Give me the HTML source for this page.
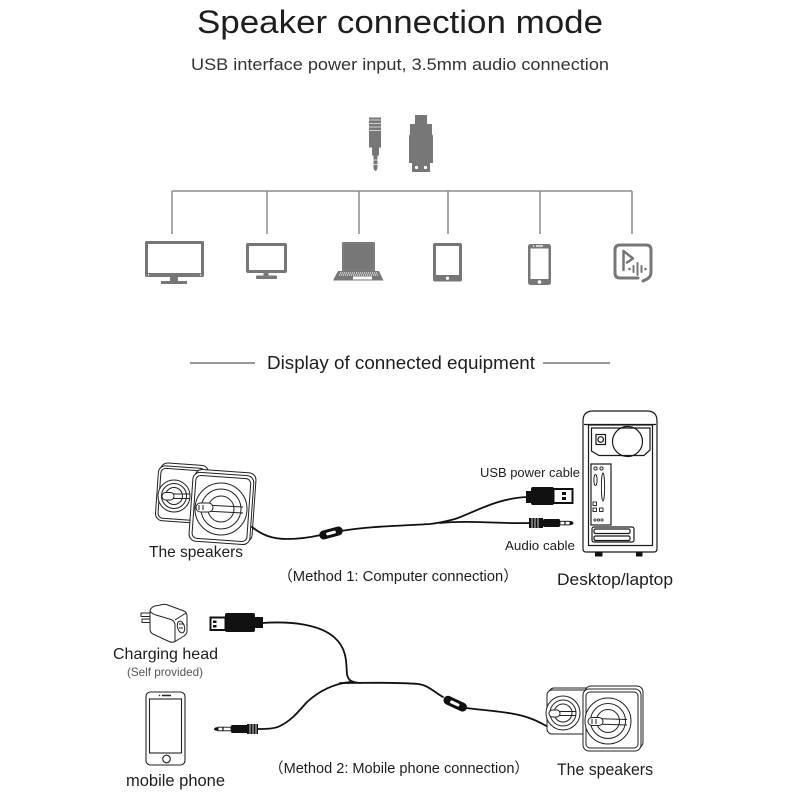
<!DOCTYPE html>
<html><head><meta charset="utf-8"><style>
html,body{margin:0;padding:0;background:#fff;}
svg{display:block;}
text{font-family:"Liberation Sans","Noto Sans CJK SC",sans-serif;fill:#1e1e1e;}
</style></head><body>
<svg width="800" height="800" viewBox="0 0 800 800" xmlns="http://www.w3.org/2000/svg">
<rect width="800" height="800" fill="#fff"/>

<!-- Titles -->
<text x="197" y="33" font-size="32" textLength="406" lengthAdjust="spacingAndGlyphs">Speaker connection mode</text>
<text x="191" y="70" font-size="17" fill="#333" textLength="418" lengthAdjust="spacingAndGlyphs" style="fill:#333">USB interface power input, 3.5mm audio connection</text>

<!-- top plug icons -->
<g fill="#777">
  <rect x="369" y="117.5" width="12" height="30"/>
  <rect x="372" y="147.5" width="7" height="8"/>
  <path d="M373.5,155 L377.5,155 L377.5,168 Q375.5,174 373.5,168 Z"/>
  <rect x="415" y="115" width="12" height="10"/>
  <path d="M410,124 L432,124 L432,134 L433,136 L433,163 L409,163 L409,136 L410,134 Z"/>
  <rect x="412" y="163" width="18" height="9"/>
</g>
<g stroke="#d0d0d0" stroke-width="1">
  <line x1="369" y1="120" x2="381" y2="120"/>
  <line x1="369" y1="123.5" x2="381" y2="123.5"/>
  <line x1="369" y1="127" x2="381" y2="127"/>
  <line x1="369" y1="130.5" x2="381" y2="130.5"/>
  <line x1="373.5" y1="160" x2="377.5" y2="160"/>
  <line x1="373.5" y1="164.5" x2="377.5" y2="164.5"/>
</g>
<circle cx="416.5" cy="167.5" r="1.6" fill="#fff"/>
<circle cx="425.5" cy="167.5" r="1.6" fill="#fff"/>

<!-- tree lines -->
<g stroke="#8c8c8c" stroke-width="1.5" fill="none">
  <line x1="172" y1="191" x2="632" y2="191"/>
  <line x1="172" y1="191" x2="172" y2="234"/>
  <line x1="267" y1="191" x2="267" y2="234"/>
  <line x1="359" y1="191" x2="359" y2="234"/>
  <line x1="448" y1="191" x2="448" y2="234"/>
  <line x1="540" y1="191" x2="540" y2="234"/>
  <line x1="632" y1="191" x2="632" y2="234"/>
</g>

<!-- device icons -->
<g fill="#777">
  <!-- TV -->
  <rect x="145" y="241" width="59" height="36" rx="1.5"/>
  <rect x="170" y="277" width="8" height="4"/>
  <rect x="161" y="281" width="26" height="3"/>
  <!-- monitor -->
  <rect x="246" y="243" width="41" height="30" rx="2"/>
  <rect x="263.5" y="273" width="5" height="3"/>
  <rect x="256" y="275.5" width="21" height="3.5" rx="1"/>
  <!-- laptop -->
  <rect x="342" y="242" width="33" height="29.5" rx="1.5"/>
  <polygon points="338,271 379,271 383.5,280.5 333,280.5"/>
  <!-- tablet -->
  <rect x="433" y="243" width="29" height="38.5" rx="2"/>
  <!-- phone -->
  <rect x="528" y="244" width="23" height="41" rx="2.5"/>
</g>
<g fill="#fff">
  <rect x="148" y="244" width="53" height="29"/>
  <circle cx="148.5" cy="275" r="0.7"/>
  <circle cx="200.5" cy="275" r="0.7"/>
  <rect x="249" y="246" width="35" height="24"/>
  <rect x="353" y="276.5" width="19" height="3"/>
  <rect x="436" y="246" width="23" height="29"/>
  <circle cx="447.5" cy="278.2" r="1.6"/>
  <rect x="530.5" y="248.5" width="18" height="30.5"/>
  <rect x="536" y="245.3" width="7" height="1.3"/>
  <circle cx="533.5" cy="246" r="0.8"/>
  <circle cx="539.5" cy="282" r="1.8"/>
</g>
<g stroke="#fff" stroke-width="1" stroke-dasharray="1.2 0.8">
  <line x1="340" y1="273" x2="377" y2="273"/>
  <line x1="339" y1="275" x2="378" y2="275"/>
</g>
<rect x="343.5" y="243.5" width="30" height="26.5" fill="none" stroke="#8a8a8a" stroke-width="0.6"/>
<!-- media icon -->
<g stroke="#777" fill="none" stroke-width="3" stroke-linecap="round" stroke-linejoin="round">
  <path d="M638,278 L620,278 Q615,278 615,273 L615,250 Q615,245 620,245 L646,245 Q651,245 651,250 L651,272 Q651,277 647,279 L643,281"/>
  <path d="M623.5,251 L623.5,270 M623.5,251 L633,258.5 L627,262.5" stroke-width="2.5"/>
</g>
<g fill="#777">
  <circle cx="629.5" cy="269" r="1.3"/>
  <rect x="632.5" y="265" width="2" height="8" rx="1"/>
  <rect x="636.5" y="262" width="2" height="14" rx="1"/>
  <rect x="640.5" y="265" width="2" height="8" rx="1"/>
  <circle cx="645.5" cy="269" r="1.3"/>
</g>

<!-- section header -->
<g stroke="#333" stroke-width="1">
  <line x1="190" y1="363" x2="255" y2="363"/>
  <line x1="543" y1="363" x2="610" y2="363"/>
</g>
<text x="267" y="369" font-size="18.5" textLength="268" lengthAdjust="spacingAndGlyphs">Display of connected equipment</text>

<!-- ===== Method 1 ===== -->
<!-- speakers 1 -->
<g stroke="#222" stroke-width="1" fill="#fff">
  <rect x="159" y="464" width="48" height="55" rx="7" transform="rotate(4 181 493)"/>
  <rect x="157" y="467" width="48" height="55" rx="7" transform="rotate(4 181 493)"/>
  <rect x="159.5" y="469.5" width="43" height="50" rx="5" transform="rotate(4 181 493)"/>
  <circle cx="174" cy="496" r="16"/>
  <circle cx="174" cy="496" r="12.5"/>
  <circle cx="174" cy="496" r="8.5"/>
  <path d="M168,494 L190,494 M168,498.5 L190,498.5" fill="none"/>
  <rect x="162" y="492.5" width="12" height="7.5" rx="3.7"/>
  <rect x="193" y="471" width="61" height="69" rx="7" transform="rotate(4 222 507)"/>
  <rect x="191" y="474" width="61" height="69" rx="7" transform="rotate(4 222 507)"/>
  <rect x="194" y="477" width="55" height="63" rx="5" transform="rotate(4 222 507)"/>
  <circle cx="221" cy="509" r="26"/>
  <circle cx="221" cy="509" r="20"/>
  <circle cx="221" cy="509" r="13"/>
  <path d="M205,505 L243,507 M205,511 L243,513" fill="none"/>
  <rect x="196" y="503" width="17" height="9" rx="4.5"/>
  <path d="M199,505 L199,510 M203,505 L203,510" fill="none"/>
</g>

<!-- cable method 1 -->
<g stroke="#111" stroke-width="1.8" fill="none" stroke-linecap="round">
  <path d="M252,527 C262,535 272,539 287,539 C302,539 312,537 321,535"/>
  <path d="M341,531 C370,526 400,526 430,524 C440,523 447,521 455,519 C475,512 497,498 528,497"/>
  <path d="M440,523 C470,520 500,524 530,523"/>
</g>
<rect x="319" y="528.5" width="24" height="9" rx="4.5" fill="#111" transform="rotate(-15 331 533)"/>
<rect x="326" y="531.5" width="10" height="3" rx="1.5" fill="#fff" transform="rotate(-15 331 533)"/>

<!-- USB plug method 1 -->
<rect x="526" y="491" width="7" height="12" fill="#111"/>
<rect x="531" y="487" width="23" height="18" rx="2" fill="#111"/>
<rect x="553.5" y="489" width="19" height="14" fill="#fff" stroke="#111" stroke-width="2"/>
<rect x="562" y="492" width="4" height="3" fill="#111"/>
<rect x="562" y="497" width="4" height="3" fill="#111"/>
<!-- audio jack method 1 -->
<rect x="529" y="518" width="14" height="10" fill="#111"/>
<g stroke="#fff" stroke-width="0.8">
  <line x1="532" y1="518" x2="532" y2="528"/>
  <line x1="535" y1="518" x2="535" y2="528"/>
  <line x1="538" y1="518" x2="538" y2="528"/>
</g>
<rect x="543" y="519" width="17" height="8" rx="1.5" fill="#111"/>
<rect x="560" y="521.3" width="10" height="3.6" fill="#fff" stroke="#111" stroke-width="0.9"/>
<path d="M570,521.3 L572,521.3 Q575,523.1 572,524.9 L570,524.9 Z" fill="#111"/>
<line x1="565" y1="521.3" x2="565" y2="524.9" stroke="#111" stroke-width="1.2"/>

<!-- computer tower -->
<g stroke="#1a1a1a" stroke-width="1.2" fill="none">
  <path d="M583,549 L583,421 Q583,411 593,411 L647,411 Q657,411 657,421 L657,549 Q657,552 654,552 L586,552 Q583,552 583,549 Z"/>
  <line x1="584" y1="424.5" x2="656" y2="424.5"/>
  <rect x="588.5" y="425" width="64" height="120.5"/>
  <path d="M591.5,428 L650,428 L650,450 L644,455.5 L599,455.5 L591.5,451 Z"/>
  <circle cx="627.5" cy="441.5" r="15"/>
  <rect x="596" y="434.5" width="9.5" height="10"/>
  <circle cx="600.7" cy="439.5" r="2.8"/>
  <rect x="591" y="464" width="20" height="61"/>
  <circle cx="595.5" cy="468.5" r="1.6" stroke-width="0.9"/>
  <circle cx="601.5" cy="468.5" r="1.6" stroke-width="0.9"/>
  <ellipse cx="595.5" cy="480" rx="1.6" ry="5.5" stroke-width="0.9"/>
  <ellipse cx="603" cy="487" rx="1.6" ry="14" stroke-width="0.9"/>
  <rect x="593" y="502" width="3.5" height="3.5" stroke-width="0.9"/>
  <rect x="593" y="508" width="3.5" height="3.5" stroke-width="0.9"/>
  <rect x="599.5" y="508" width="3.5" height="3.5" stroke-width="0.9"/>
  <circle cx="595" cy="520" r="1.1" stroke-width="0.8"/>
  <circle cx="598.5" cy="520" r="1.1" stroke-width="0.8"/>
  <circle cx="602" cy="520" r="1.1" stroke-width="0.8"/>
  <rect x="592" y="527" width="42" height="15" rx="2"/>
  <rect x="594" y="529" width="36" height="4.5" rx="1.5"/>
  <rect x="594" y="536" width="36" height="4.5" rx="1.5"/>
</g>
<rect x="595" y="552" width="7.5" height="4.5" fill="#111"/>
<rect x="636" y="552" width="6.5" height="4.5" fill="#111"/>

<!-- labels method 1 -->
<text x="480" y="477" font-size="13" textLength="100" lengthAdjust="spacingAndGlyphs">USB power cable</text>
<text x="505" y="550" font-size="13" textLength="70" lengthAdjust="spacingAndGlyphs">Audio cable</text>
<text x="149" y="557" font-size="16" textLength="94" lengthAdjust="spacingAndGlyphs">The speakers</text>
<text x="278" y="581" font-size="15" textLength="240" lengthAdjust="spacingAndGlyphs">（Method 1: Computer connection）</text>
<text x="557" y="585" font-size="17" textLength="116" lengthAdjust="spacingAndGlyphs">Desktop/laptop</text>

<!-- ===== Method 2 ===== -->
<!-- charger -->
<g stroke="#222" stroke-width="1" fill="#fff" stroke-linejoin="round">
  <path d="M141,613 L151,613 L151,616.5 L141,616.5 Z"/>
  <path d="M142,619 L151,619 L151,622.5 L142,622.5 Z"/>
  <path d="M150,611 Q151,607 155,606 L163,604.5 Q166,604 169,605.5 L184,611 Q187,612.5 187,616 L187,631 Q187,634 184,636 L175,641.5 Q172,643 169,641.5 L153,634 Q150,632.5 150,629 Z"/>
  <path d="M150,611 Q152,614 156,615 L171,619.5 Q174,620.5 175,624 L175,641" fill="none"/>
  <path d="M175,620 L186,613" fill="none"/>
  <ellipse cx="181" cy="627" rx="3.5" ry="6" transform="rotate(-15 181 627)"/>
  <path d="M179,624 L183,624 M179,628 L183,628" fill="none"/>
</g>

<!-- USB plug method 2 -->
<rect x="210.5" y="617.5" width="15" height="12.5" fill="#fff" stroke="#111" stroke-width="2"/>
<rect x="213" y="620.5" width="3.5" height="2.5" fill="#111"/>
<rect x="213" y="625" width="3.5" height="2.5" fill="#111"/>
<rect x="225" y="613" width="30" height="19" rx="2" fill="#111"/>
<rect x="253" y="617" width="10" height="11" fill="#111"/>

<!-- cable method 2 -->
<g stroke="#111" stroke-width="1.8" fill="none" stroke-linecap="round">
  <path d="M262,623 C290,621 320,624 335,638 C348,650 346,665 347,674 C348,681 352,682 360,683"/>
  <path d="M340,683 C362,683 395,682 418,684 C428,685 434,692 443,697"/>
  <path d="M466,708 C490,711 515,712 532,719 C540,722 546,726 552,729"/>
  <path d="M350,682 C332,684 318,692 307,702 C298,712 292,720 280,726 C274,729 266,729 257,729"/>
</g>
<rect x="443" y="699" width="25" height="9" rx="4.5" fill="#111" transform="rotate(25 455 703)"/>
<rect x="450" y="702" width="10" height="3" rx="1.5" fill="#fff" transform="rotate(25 455 703)"/>

<!-- jack method 2 -->
<rect x="247" y="724" width="11" height="10" fill="#111"/>
<g stroke="#fff" stroke-width="0.8">
  <line x1="250" y1="724" x2="250" y2="734"/>
  <line x1="253" y1="724" x2="253" y2="734"/>
  <line x1="256" y1="724" x2="256" y2="734"/>
</g>
<rect x="231" y="725" width="17" height="8" rx="1.5" fill="#111"/>
<rect x="218" y="727.2" width="13" height="3.6" fill="#fff" stroke="#111" stroke-width="0.9"/>
<line x1="223" y1="727.2" x2="223" y2="730.8" stroke="#111" stroke-width="1.2"/>
<path d="M218,727.2 L216,727.2 Q212,729 216,730.8 L218,730.8 Z" fill="#111"/>

<!-- phone -->
<g stroke="#222" stroke-width="1.1" fill="#fff">
  <rect x="146" y="692" width="39" height="73" rx="4.5"/>
  <rect x="149.5" y="699" width="32" height="54"/>
  <circle cx="166.5" cy="759" r="3.8"/>
  <line x1="162" y1="695.5" x2="171" y2="695.5" stroke-width="1.5"/>
</g>
<circle cx="159.5" cy="695.5" r="0.8" fill="#222"/>

<!-- speakers 2 -->
<g stroke="#222" stroke-width="1" fill="#fff">
  <rect x="549" y="688" width="42" height="44" rx="5"/>
  <rect x="547" y="690" width="42" height="44" rx="5"/>
  <circle cx="563" cy="713" r="17"/>
  <circle cx="563" cy="713" r="13"/>
  <circle cx="563" cy="713" r="9"/>
  <path d="M556,711.5 L576,711.5 M556,715.5 L576,715.5" fill="none"/>
  <rect x="549" y="710" width="11" height="7" rx="3.5"/>
  <rect x="585" y="686" width="58" height="62" rx="6"/>
  <rect x="583" y="689" width="58" height="62" rx="6"/>
  <rect x="586" y="692" width="52" height="56" rx="4"/>
  <circle cx="608" cy="721" r="23"/>
  <circle cx="608" cy="721" r="17.5"/>
  <circle cx="608" cy="721" r="11.5"/>
  <path d="M594,718.5 L627,719.5 M594,724 L627,725" fill="none"/>
  <rect x="588" y="717.5" width="15" height="8" rx="4"/>
  <path d="M592,719 L592,724 M596,719 L596,724" fill="none"/>
</g>

<!-- labels method 2 -->
<text x="113" y="659" font-size="16" textLength="105" lengthAdjust="spacingAndGlyphs">Charging head</text>
<text x="127" y="676" font-size="12" textLength="76" lengthAdjust="spacingAndGlyphs" style="fill:#555">(Self provided)</text>
<text x="126" y="786" font-size="16.5" textLength="99" lengthAdjust="spacingAndGlyphs">mobile phone</text>
<text x="269" y="773" font-size="15" textLength="260" lengthAdjust="spacingAndGlyphs">（Method 2: Mobile phone connection）</text>
<text x="557" y="775" font-size="16.5" textLength="96" lengthAdjust="spacingAndGlyphs">The speakers</text>
</svg>
</body></html>
